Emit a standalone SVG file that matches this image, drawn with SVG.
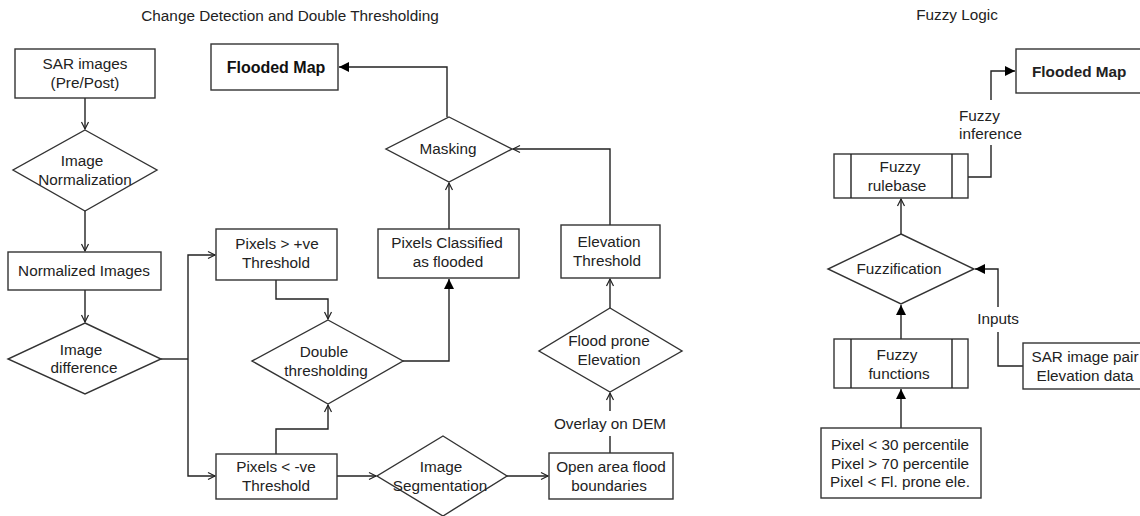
<svg xmlns="http://www.w3.org/2000/svg" width="1140" height="516" viewBox="0 0 1140 516">
<defs>
<marker id="open" markerWidth="10" markerHeight="10" refX="8" refY="5" orient="auto" markerUnits="userSpaceOnUse">
<path d="M1,1.5 L8,5 L1,8.5" fill="none" stroke="#222" stroke-width="1.2"/>
</marker>
<marker id="fill" markerWidth="12" markerHeight="12" refX="10" refY="6" orient="auto" markerUnits="userSpaceOnUse">
<path d="M0,1 L10,6 L0,11 Z" fill="#000"/>
</marker>
</defs>
<style>
.n{fill:#fff;stroke:#333;stroke-width:1.4}
.t{font-family:"Liberation Sans",Arial,sans-serif;font-size:15.3px;fill:#222;text-anchor:middle}
.b{font-weight:bold;font-size:16px;fill:#111}
.title{font-family:"Liberation Sans",Arial,sans-serif;font-size:15.3px;fill:#222;text-anchor:middle}
.c{fill:none;stroke:#222;stroke-width:1.4}
.lbl{font-family:"Liberation Sans",Arial,sans-serif;font-size:15.3px;fill:#222}
</style>
<rect width="1140" height="516" fill="#fff"/>
<text class="title" x="290" y="21">Change Detection and Double Thresholding</text>
<text class="title" x="957" y="20">Fuzzy Logic</text>

<g id="connectors">
<path class="c" d="M85,98 V129" marker-end="url(#open)"/>
<path class="c" d="M85,211 V251" marker-end="url(#open)"/>
<path class="c" d="M85,290 V322" marker-end="url(#open)"/>
<path class="c" d="M161,359 H188"/>
<path class="c" d="M188,359 V255 H215" marker-end="url(#open)"/>
<path class="c" d="M188,359 V476 H215" marker-end="url(#open)"/>
<path class="c" d="M276,280 V299 H328 V319" marker-end="url(#open)"/>
<path class="c" d="M276,454 V429 H328 V405" marker-end="url(#open)"/>
<path class="c" d="M337,476 H376" marker-end="url(#open)"/>
<path class="c" d="M507,476 H548" marker-end="url(#open)"/>
<path class="c" d="M403,361 H449 V279" marker-end="url(#fill)"/>
<path class="c" d="M449,229 V183" marker-end="url(#open)"/>
<path class="c" d="M447,117 V67 H339" marker-end="url(#fill)"/>
<path class="c" d="M610,225 V149 H513" marker-end="url(#open)"/>
<path class="c" d="M610,308 V279" marker-end="url(#open)"/>
<path class="c" d="M610,453 V436"/>
<path class="c" d="M610,411 V393" marker-end="url(#open)"/>
<text class="lbl" x="610" y="429" text-anchor="middle">Overlay on DEM</text>

<path class="c" d="M968,177 H991 V145"/>
<path class="c" d="M991,100 V71 H1015" marker-end="url(#fill)"/>
<text class="lbl" x="959" y="121">Fuzzy</text>
<text class="lbl" x="959" y="139">inference</text>
<path class="c" d="M901,234 V199" marker-end="url(#open)"/>
<path class="c" d="M901,339 V305" marker-end="url(#fill)"/>
<path class="c" d="M901,428 V389" marker-end="url(#fill)"/>
<path class="c" d="M1023,366 H998 V332"/>
<path class="c" d="M998,307 V269 H975" marker-end="url(#fill)"/>
<text class="lbl" x="998" y="324" text-anchor="middle">Inputs</text>
</g>

<g id="sar">
<rect class="n" x="15" y="49" width="140" height="49"/>
<text class="t" x="85" y="69">SAR images</text>
<text class="t" x="85" y="88">(Pre/Post)</text>
</g>
<g id="normalization">
<polygon class="n" points="85,130 157,170 85,211 13,170"/>
<text class="t" x="82" y="166">Image</text>
<text class="t" x="85" y="185">Normalization</text>
</g>
<g id="normalized">
<rect class="n" x="8" y="252" width="153" height="38"/>
<text class="t" x="84" y="276">Normalized Images</text>
</g>
<g id="difference">
<polygon class="n" points="85,323 161,359 85,394 8,359"/>
<text class="t" x="81" y="355">Image</text>
<text class="t" x="84" y="373">difference</text>
</g>
<g id="pos">
<rect class="n" x="216" y="229" width="121" height="51"/>
<text class="t" x="277" y="249">Pixels &gt; +ve</text>
<text class="t" x="276" y="268">Threshold</text>
</g>
<g id="neg">
<rect class="n" x="216" y="454" width="121" height="45"/>
<text class="t" x="276" y="472">Pixels &lt; -ve</text>
<text class="t" x="276" y="491">Threshold</text>
</g>
<g id="double">
<polygon class="n" points="328,320 403,361 328,404 252,361"/>
<text class="t" x="324" y="357">Double</text>
<text class="t" x="326" y="376">thresholding</text>
</g>
<g id="segmentation">
<polygon class="n" points="443,436 507,476 443,516 377,476"/>
<text class="t" x="441" y="472">Image</text>
<text class="t" x="440" y="491">Segmentation</text>
</g>
<g id="classified">
<rect class="n" x="378" y="229" width="141" height="49"/>
<text class="t" x="447" y="248">Pixels Classified</text>
<text class="t" x="448" y="267">as flooded</text>
</g>
<g id="masking">
<polygon class="n" points="449,117 512,149 449,182 386,149"/>
<text class="t" x="448" y="154">Masking</text>
</g>
<g id="floodedmap1">
<rect class="n" x="211" y="44" width="127" height="46"/>
<text class="t b" x="276" y="73">Flooded Map</text>
</g>
<g id="elevthr">
<rect class="n" x="561" y="225" width="99" height="53"/>
<text class="t" x="609" y="247">Elevation</text>
<text class="t" x="607" y="266">Threshold</text>
</g>
<g id="floodprone">
<polygon class="n" points="610,308 682,351 610,392 539,351"/>
<text class="t" x="609" y="346">Flood prone</text>
<text class="t" x="609" y="365">Elevation</text>
</g>
<g id="openarea">
<rect class="n" x="549" y="453" width="124" height="46"/>
<text class="t" x="611" y="472">Open area flood</text>
<text class="t" x="609" y="491">boundaries</text>
</g>

<g id="floodedmap2">
<rect class="n" x="1016" y="49" width="130" height="44"/>
<text class="lbl b" x="1032" y="77">Flooded Map</text>
</g>
<g id="rulebase">
<rect class="n" x="834" y="154" width="134" height="44"/>
<line class="c" x1="851" y1="154" x2="851" y2="198"/>
<line class="c" x1="952" y1="154" x2="952" y2="198"/>
<text class="t" x="900" y="172">Fuzzy</text>
<text class="t" x="897" y="191">rulebase</text>
</g>
<g id="fuzzification">
<polygon class="n" points="901,234 974,269 901,304 828,269"/>
<text class="t" x="899" y="274">Fuzzification</text>
</g>
<g id="functions">
<rect class="n" x="834" y="339" width="134" height="49"/>
<line class="c" x1="851" y1="339" x2="851" y2="388"/>
<line class="c" x1="952" y1="339" x2="952" y2="388"/>
<text class="t" x="897" y="360">Fuzzy</text>
<text class="t" x="899" y="379">functions</text>
</g>
<g id="pixelrules">
<rect class="n" x="821" y="428" width="160" height="70"/>
<text class="t" x="900" y="450">Pixel &lt; 30 percentile</text>
<text class="t" x="900" y="469">Pixel &gt; 70 percentile</text>
<text class="t" x="900" y="487">Pixel &lt; Fl. prone ele.</text>
</g>
<g id="sarpair">
<rect class="n" x="1023" y="343" width="124" height="46"/>
<text class="t" x="1085" y="362">SAR image pair</text>
<text class="t" x="1085" y="381">Elevation data</text>
</g>
</svg>
